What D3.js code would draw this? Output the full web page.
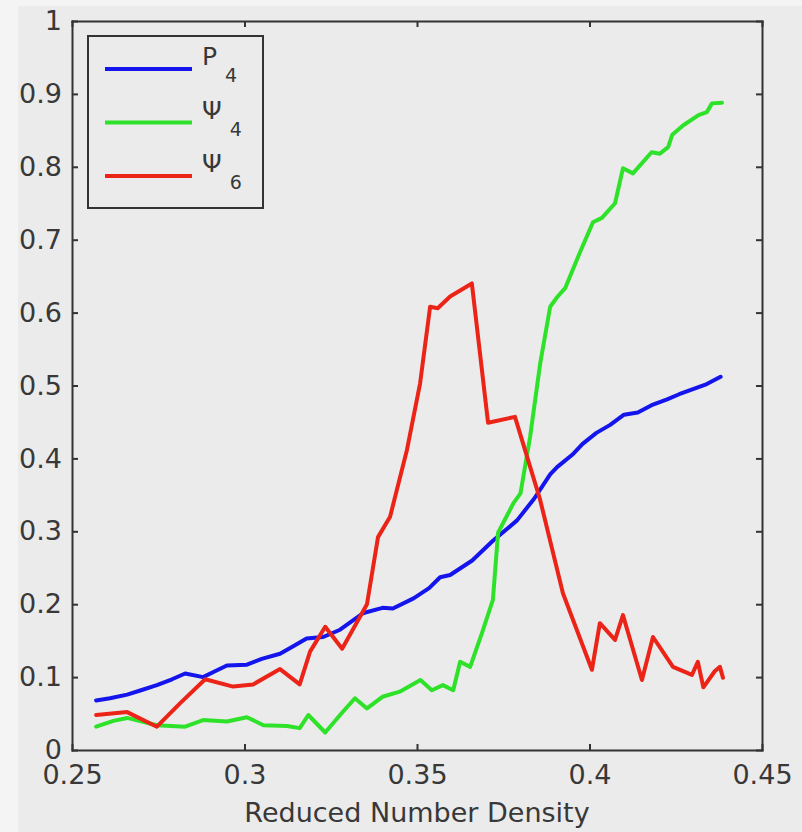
<!DOCTYPE html>
<html>
<head>
<meta charset="utf-8">
<script src="https://cdn.jsdelivr.net/npm/d3@7"></script>
<style>
  body { margin: 0; background: #f4f4f4; }
  svg { display: block; }
  .axis path, .axis line { stroke: #333; stroke-width: 2; }
  .axis text { font-family: "DejaVu Sans", sans-serif; font-size: 27px; fill: #383838; }
</style>
</head>
<body>
<div id="chart"></div>
<script>
const width = 802;
const height = 832;
const margin = { top: 21, right: 40, bottom: 82, left: 72 };

// data
const xTicks = [0.25, 0.3, 0.35, 0.4, 0.45];
const yTicks = [0, 0.1, 0.2, 0.3, 0.4, 0.5, 0.6, 0.7, 0.8, 0.9, 1];

const p4X = [0.257, 0.261, 0.266, 0.270, 0.2746, 0.279, 0.2828, 0.288, 0.291, 0.2949,
  0.3007, 0.305, 0.3103, 0.314, 0.318, 0.3228, 0.3277, 0.3345, 0.340, 0.343,
  0.349, 0.3535, 0.3567, 0.3596, 0.366, 0.372, 0.379, 0.384, 0.3886, 0.3906,
  0.395, 0.398, 0.402, 0.406, 0.410, 0.414, 0.418, 0.4225, 0.426, 0.430, 0.434, 0.438];
const p4Y = [0.068, 0.071, 0.076, 0.082, 0.089, 0.097, 0.105, 0.100, 0.107, 0.116,
  0.117, 0.125, 0.132, 0.142, 0.153, 0.155, 0.165, 0.188, 0.195, 0.194,
  0.208, 0.222, 0.237, 0.240, 0.260, 0.287, 0.315, 0.345, 0.378, 0.388,
  0.405, 0.420, 0.435, 0.446, 0.460, 0.463, 0.473, 0.481, 0.488, 0.495, 0.502, 0.512];

const psi4X = [0.257, 0.262, 0.266, 0.2746, 0.2828, 0.288, 0.2949, 0.3007, 0.3055, 0.3123,
  0.316, 0.3185, 0.3234, 0.3277, 0.332, 0.3355, 0.340, 0.345, 0.351, 0.3543,
  0.3575, 0.3605, 0.3625, 0.3654, 0.3688, 0.372, 0.3735, 0.378, 0.380, 0.3828,
  0.3857, 0.3886, 0.3906, 0.393, 0.397, 0.401, 0.4036, 0.4074, 0.4097, 0.4126,
  0.418, 0.4204, 0.4228, 0.424, 0.4272, 0.4316, 0.434, 0.4355, 0.4384];
const psi4Y = [0.032, 0.040, 0.044, 0.034, 0.032, 0.041, 0.039, 0.045, 0.034, 0.033,
  0.030, 0.048, 0.024, 0.048, 0.071, 0.057, 0.073, 0.080, 0.096, 0.082,
  0.089, 0.082, 0.121, 0.114, 0.160, 0.206, 0.298, 0.339, 0.352, 0.430,
  0.530, 0.608, 0.621, 0.634, 0.680, 0.724, 0.730, 0.750, 0.798, 0.791,
  0.820, 0.818, 0.827, 0.844, 0.857, 0.871, 0.875, 0.887, 0.888];

const psi6X = [0.257, 0.266, 0.2746, 0.2813, 0.2886, 0.2967, 0.3025, 0.3103, 0.316, 0.319,
  0.3234, 0.3283, 0.3355, 0.3387, 0.3422, 0.3471, 0.3509, 0.3538, 0.356, 0.3596,
  0.3659, 0.3706, 0.3784, 0.3857, 0.3923, 0.4007, 0.403, 0.4074, 0.4097, 0.4152,
  0.4184, 0.4242, 0.4297, 0.4314, 0.433, 0.4363, 0.4378, 0.4387];
const psi6Y = [0.048, 0.052, 0.032, 0.064, 0.097, 0.087, 0.090, 0.111, 0.090, 0.135,
  0.169, 0.139, 0.200, 0.292, 0.320, 0.412, 0.503, 0.608, 0.606, 0.622,
  0.640, 0.449, 0.457, 0.343, 0.215, 0.110, 0.174, 0.151, 0.185, 0.096,
  0.155, 0.114, 0.103, 0.121, 0.086, 0.108, 0.114, 0.099];

const seriesNames = ['P', 'Ψ', 'Ψ'];
const seriesSubs = ['4', '4', '6'];
const seriesColors = ['#1414ec', '#2ee22a', '#ec2418'];

const series = [
  { x: p4X, y: p4Y },
  { x: psi4X, y: psi4Y },
  { x: psi6X, y: psi6Y }
].map((s, i) => ({
  name: seriesNames[i],
  sub: seriesSubs[i],
  color: seriesColors[i],
  values: s.x.map((d, j) => ({ x: d, y: s.y[j] }))
}));

const svg = d3.select('#chart')
  .append('svg')
  .attr('width', width)
  .attr('height', height);

// figure background
svg.append('rect')
  .attr('x', 18).attr('y', 6)
  .attr('width', width - 18).attr('height', height - 6)
  .attr('fill', '#ebebeb');

const x0 = margin.left;
const x1 = width - margin.right;
const y0 = height - margin.bottom;
const y1 = margin.top;

const xScale = d3.scaleLinear().domain([0.25, 0.45]).range([x0, x1]);
const yScale = d3.scaleLinear().domain([0, 1]).range([y0, y1]);

// series
const line = d3.line()
  .x(d => xScale(d.x))
  .y(d => yScale(d.y));

svg.selectAll('.series').data(series)
  .enter().append('path')
  .attr('class', 'series')
  .attr('d', d => line(d.values))
  .attr('fill', 'none')
  .attr('stroke', d => d.color)
  .attr('stroke-width', 4)
  .attr('stroke-linejoin', 'round')
  .attr('stroke-linecap', 'round');

// axes, ticks drawn inside on all four sides
const fmt = d3.format('~g');

svg.append('g')
  .attr('class', 'x axis')
  .attr('transform', `translate(0,${y0})`)
  .call(d3.axisBottom(xScale).tickValues(xTicks).tickFormat(fmt)
    .tickSize(-6).tickSizeOuter(0).tickPadding(15));

svg.append('g')
  .attr('class', 'x axis')
  .attr('transform', `translate(0,${y1})`)
  .call(d3.axisTop(xScale).tickValues(xTicks).tickFormat('')
    .tickSize(-6).tickSizeOuter(0));

svg.append('g')
  .attr('class', 'y axis')
  .attr('transform', `translate(${x0},0)`)
  .call(d3.axisLeft(yScale).tickValues(yTicks).tickFormat(fmt)
    .tickSize(-6).tickSizeOuter(0).tickPadding(10));

svg.append('g')
  .attr('class', 'y axis')
  .attr('transform', `translate(${x1},0)`)
  .call(d3.axisRight(yScale).tickValues(yTicks).tickFormat('')
    .tickSize(-6).tickSizeOuter(0));

svg.selectAll('.axis .domain').attr('stroke-linecap', 'square');

// x label
svg.append('text')
  .attr('x', (x0 + x1) / 2 + 0)
  .attr('y', 822)
  .attr('text-anchor', 'middle')
  .attr('font-family', 'DejaVu Sans, sans-serif')
  .attr('font-size', 27)
  .attr('fill', '#383838')
  .text('Reduced Number Density');

// legend
const legend = svg.append('g').attr('transform', 'translate(88,36)');

legend.append('rect')
  .attr('width', 175).attr('height', 172)
  .attr('fill', '#ebebeb')
  .attr('stroke', '#333')
  .attr('stroke-width', 2);

const item = legend.selectAll('.item').data(series)
  .enter().append('g')
  .attr('class', 'item')
  .attr('transform', (d, i) => `translate(0,${33 + i * 53.5})`);

item.append('line')
  .attr('x1', 17).attr('x2', 104)
  .attr('stroke', d => d.color)
  .attr('stroke-width', 4);

const label = item.append('text')
  .attr('x', 114)
  .attr('y', -4)
  .attr('font-family', 'DejaVu Sans, sans-serif')
  .attr('fill', '#383838');

label.append('tspan')
  .attr('font-size', 25)
  .text(d => d.name);

label.append('tspan')
  .attr('dx', 8)
  .attr('dy', 17)
  .attr('font-size', 19)
  .text(d => d.sub);
</script>
</body>
</html>
